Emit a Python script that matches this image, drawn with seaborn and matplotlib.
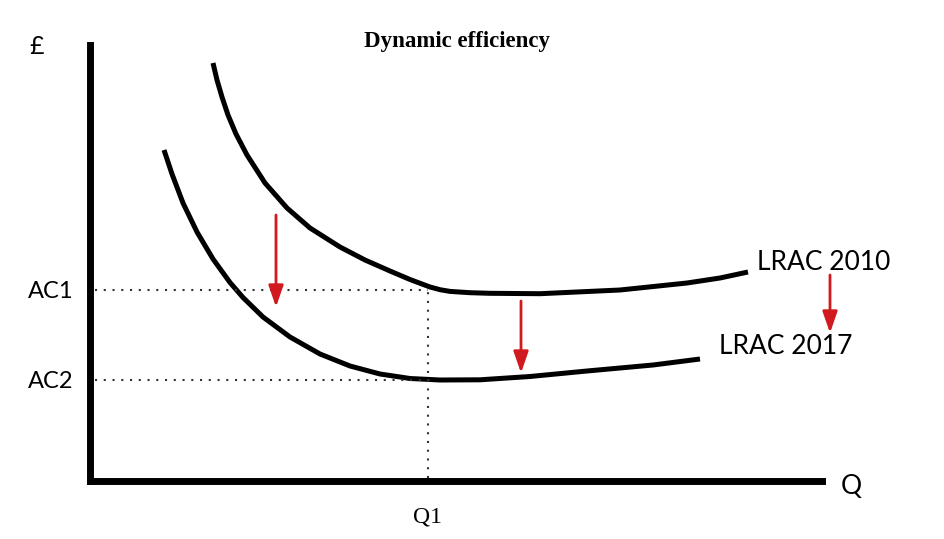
import matplotlib
matplotlib.use("Agg")
import matplotlib.pyplot as plt
import seaborn as sns
import pandas as pd

# ---- data (quantity, average cost) ----
q_2010 = [123, 127, 132, 138, 146, 157, 175, 197, 220, 250, 275, 300, 320, 340, 350, 360, 380, 400, 450, 530, 597, 630, 658]
c_2010 = [418, 401, 384, 366, 347, 326, 298, 273, 253, 234, 221, 210, 201.5, 194, 191.3, 189.6, 188.3, 187.7, 187.3, 191, 198, 203, 209]
q_2017 = [74, 82, 93, 107, 123, 140, 153, 173, 200, 230, 260, 290, 320, 350, 390, 440, 497, 563, 610]
c_2017 = [331, 307, 278, 249, 222, 198.5, 183.5, 164, 144, 127, 115, 107, 102.5, 101, 101.2, 104.5, 110, 116, 122]
curve_names = ["LRAC 2010", "LRAC 2017"]

ac_levels = [191, 101]
ac_labels = ["AC1", "AC2"]
q1_value = 338
q1_label = "Q1"

# arrows: x position, from cost, to cost
arrow_q = [186, 431, 740]
arrow_from = [266, 180, 206]
arrow_to = [174, 108, 148]

label_pos_q = [667, 629]
label_pos_c = [219, 134]

title = "Dynamic efficiency"

df = pd.concat([
    pd.DataFrame({"Q": q_2010, "cost": c_2010, "curve": curve_names[0]}),
    pd.DataFrame({"Q": q_2017, "cost": c_2017, "curve": curve_names[1]}),
])

sns.set_theme(style="white")
plt.rcParams["font.family"] = ["Lato", "DejaVu Sans"]
plt.rcParams["text.color"] = "black"
plt.rcParams["xtick.labelcolor"] = "black"
plt.rcParams["ytick.labelcolor"] = "black"

W, H = 944, 539
fig = plt.figure(figsize=(W / 100, H / 100), dpi=100)
ax = fig.add_axes([90 / W, (H - 481) / H, 732 / W, 436 / H])

sns.lineplot(data=df, x="Q", y="cost", hue="curve", palette=["black", "black"],
             sort=False, estimator=None, linewidth=3.6, legend=False, ax=ax)
for ln in ax.get_lines():
    ln.set_solid_joinstyle("round")
    ln.set_solid_capstyle("butt")

ax.set_xlim(0, 732)
ax.set_ylim(0, 436)

for s in ["top", "right"]:
    ax.spines[s].set_visible(False)
for s in ["left", "bottom"]:
    ax.spines[s].set_linewidth(5)
    ax.spines[s].set_color("black")
    ax.spines[s].set_capstyle("projecting")

# dotted guide lines
dot = dict(color="#333333", linewidth=1.5, linestyle=(0, (1, 3.2)))
ax.hlines(ac_levels[0], 5, q1_value, **dot)
ax.hlines(ac_levels[1], 5, q1_value + 2, **dot)
ax.vlines(q1_value, 3, ac_levels[0], **dot)

# red shift arrows
for xq, c0, c1 in zip(arrow_q, arrow_from, arrow_to):
    ax.annotate("", xy=(xq, c1), xytext=(xq, c0), annotation_clip=False,
                arrowprops=dict(arrowstyle="-|>,head_length=1.3,head_width=0.45",
                                mutation_scale=10, color="#d11a1f", lw=2,
                                shrinkA=0, shrinkB=0))

# curve labels
for name, xq, yc in zip(curve_names, label_pos_q, label_pos_c):
    ax.text(xq, yc, name, fontsize=19, va="center", ha="left", clip_on=False,
            fontfamily="Lato", color="black")

ax.set_yticks(ac_levels, ac_labels)
ax.set_xticks([q1_value], [q1_label])
ax.tick_params(axis="y", length=0, pad=12, labelsize=17)
ax.tick_params(axis="x", length=0, pad=18, labelsize=17)
for t in ax.get_xticklabels():
    t.set_fontfamily("Liberation Serif")
ax.set_xlabel("")
ax.set_ylabel("")

fig.text(37 / W, 1 - 46 / H, "£", fontsize=18, ha="center", va="center")
fig.text(851 / W, 1 - 486 / H, "Q", fontsize=19, ha="center", va="center")
fig.text(457 / W, 1 - 42 / H, title, fontsize=16.5, ha="center", va="center",
         fontfamily="Liberation Serif", fontweight="bold")

fig.savefig("out.png", dpi=100, facecolor="white")
